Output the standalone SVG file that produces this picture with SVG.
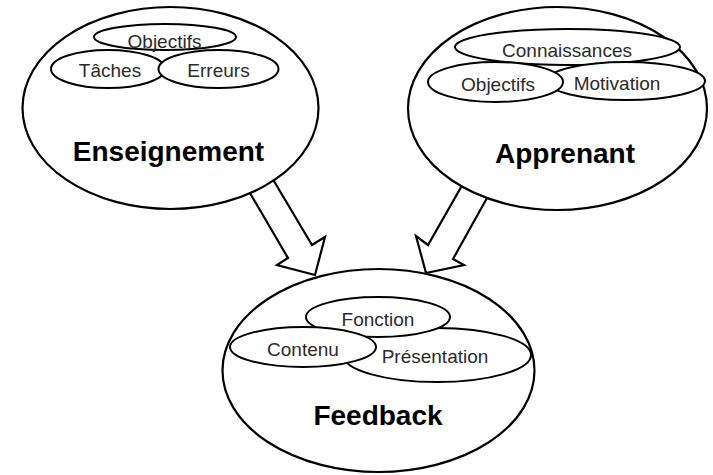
<svg xmlns="http://www.w3.org/2000/svg" width="713" height="475" viewBox="0 0 713 475">
<style>
.big{fill:#fff;stroke:#000;stroke-width:2.2}
.sub{fill:#fff;stroke:#000;stroke-width:2}
.arr{fill:#fff;stroke:#000;stroke-width:2.2;stroke-linejoin:miter}
.lbl{font-family:"Liberation Sans",Arial,sans-serif;font-size:19px;fill:#2b2b2b;text-anchor:middle}
.ttl{font-family:"Liberation Sans",Arial,sans-serif;font-size:28px;font-weight:bold;fill:#000;text-anchor:middle}
</style>
<rect width="713" height="475" fill="#fff"/>
<g id="connectors">
<polygon class="arr" points="240,176 288,258 277,265 315,275 325,237 312,245 265,166"/>
<polygon class="arr" points="472,168 428,245 416,236 426,273 464,265 453,259 497,180"/>
</g>
<g id="feedback">
<ellipse class="big" cx="378.5" cy="370.5" rx="156" ry="101.5"/>
<ellipse class="sub" cx="437" cy="355" rx="94" ry="27"/>
<ellipse class="sub" cx="378" cy="317" rx="72" ry="20"/>
<ellipse class="sub" cx="303" cy="347" rx="73" ry="20"/>
<text class="lbl" x="378" y="326">Fonction</text>
<text class="lbl" x="303" y="356">Contenu</text>
<text class="lbl" x="435" y="363">Présentation</text>
<text class="ttl" x="378" y="425">Feedback</text>
</g>
<g id="enseignement">
<ellipse class="big" cx="170.5" cy="108" rx="148" ry="101"/>
<ellipse class="sub" cx="165" cy="37" rx="71" ry="13"/>
<ellipse class="sub" cx="108" cy="69" rx="57" ry="19"/>
<ellipse class="sub" cx="218.5" cy="69" rx="60" ry="19"/>
<text class="lbl" x="164.5" y="48">Objectifs</text>
<text class="lbl" x="110" y="77">Tâches</text>
<text class="lbl" x="218.5" y="77">Erreurs</text>
<text class="ttl" x="168.5" y="161">Enseignement</text>
</g>
<g id="apprenant">
<ellipse class="big" cx="557.5" cy="108.5" rx="149.5" ry="101.5"/>
<ellipse class="sub" cx="567.5" cy="47" rx="112.5" ry="18"/>
<ellipse class="sub" cx="626" cy="81" rx="79" ry="19"/>
<ellipse class="sub" cx="495.5" cy="82" rx="67.5" ry="20"/>
<text class="lbl" x="567" y="57">Connaissances</text>
<text class="lbl" x="498" y="91">Objectifs</text>
<text class="lbl" x="617" y="90">Motivation</text>
<text class="ttl" x="565" y="163">Apprenant</text>
</g>
</svg>
